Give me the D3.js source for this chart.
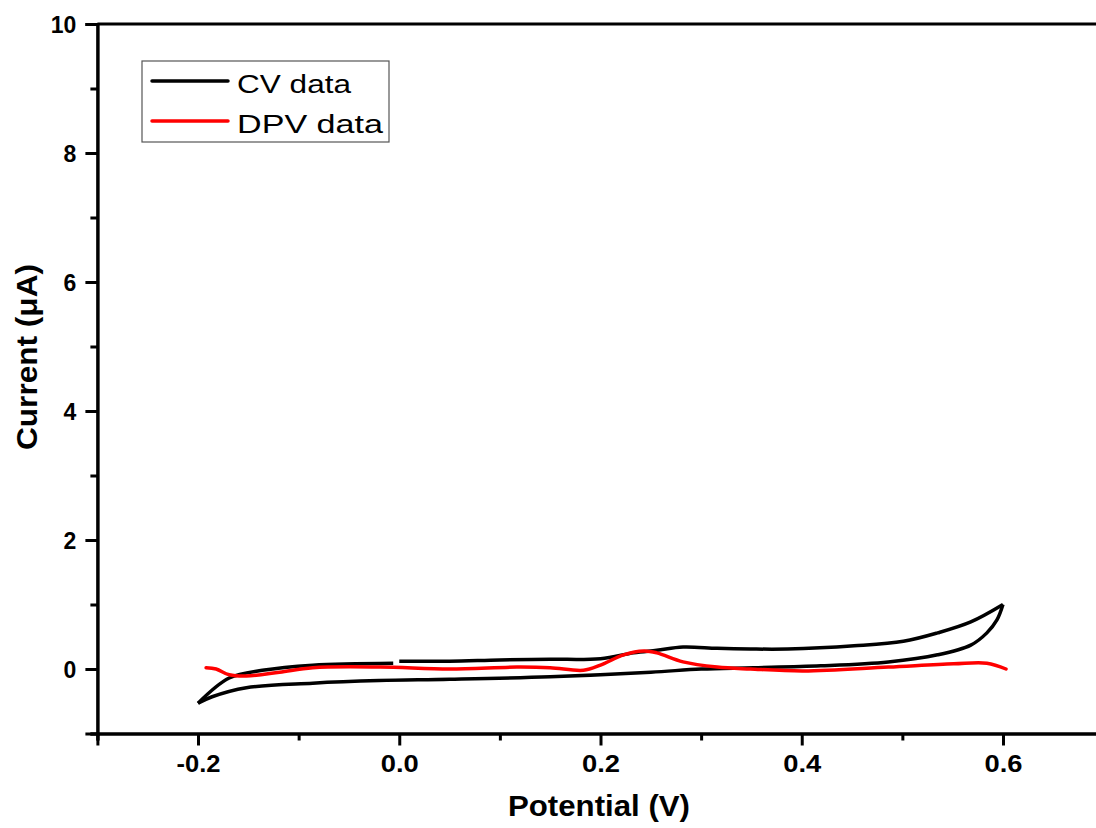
<!DOCTYPE html>
<html>
<head>
<meta charset="utf-8">
<script src="https://cdn.jsdelivr.net/npm/d3@7"></script>
<style>
body{margin:0;background:#fff;}
text{font-family:"Liberation Sans",Arial,sans-serif;}
</style>
</head>
<body>
<script>
// CV forward scan (starts at 0.0 V, goes to 0.6 V)
var cvFwdV = [0.0, 0.05, 0.1, 0.15, 0.2, 0.233, 0.256, 0.282, 0.316, 0.349, 0.386, 0.452, 0.501, 0.535, 0.568, 0.6];
var cvFwdI = [0.12, 0.12, 0.14, 0.15, 0.16, 0.25, 0.29, 0.34, 0.32, 0.31, 0.31, 0.36, 0.43, 0.56, 0.73, 1.0];
// CV reverse scan (0.6 V back to -0.2 V)
var cvRevV = [0.6, 0.594, 0.584, 0.568, 0.535, 0.486, 0.419, 0.352, 0.3, 0.25, 0.15, 0.05, -0.02, -0.086, -0.152, -0.186, -0.2];
var cvRevI = [1.0, 0.76, 0.56, 0.37, 0.22, 0.11, 0.05, 0.02, 0.0, -0.05, -0.12, -0.16, -0.18, -0.22, -0.29, -0.43, -0.53];
// CV second forward part (-0.2 V up to 0.0 V)
var cvEndV = [-0.2, -0.169, -0.136, -0.086, -0.006];
var cvEndI = [-0.53, -0.14, -0.02, 0.06, 0.09];

var dpvV = [-0.192, -0.182, -0.169, -0.152, -0.119, -0.086, -0.019, 0.05, 0.117, 0.15, 0.183, 0.2, 0.223, 0.243, 0.256, 0.282, 0.316, 0.349, 0.402, 0.486, 0.551, 0.584, 0.603];
var dpvI = [0.02, 0.0, -0.09, -0.11, -0.05, 0.02, 0.03, 0.0, 0.03, 0.02, -0.02, 0.06, 0.22, 0.28, 0.25, 0.11, 0.03, 0.0, -0.03, 0.03, 0.08, 0.09, 0.0];

var xMajor = [-0.2, 0.0, 0.2, 0.4, 0.6];
var xMinor = [-0.3, -0.1, 0.1, 0.3, 0.5];
var yMajor = [0, 2, 4, 6, 8, 10];
var yMinor = [-1, 1, 3, 5, 7, 9];

var svg = d3.select("body")
   .append("svg")
   .attr("width", 1096)
   .attr("height", 828);

var x = d3.scaleLinear().domain([-0.3, 0.7]).range([97.4, 1103.6]);
var y = d3.scaleLinear().domain([-1, 10]).range([733.5, 24]);

function zip(vs, is){
  return vs.map(function(v, k){ return [v, is[k]]; });
}

var line = d3.line()
  .x(function(d){ return x(d[0]); })
  .y(function(d){ return y(d[1]); })
  .curve(d3.curveCatmullRom.alpha(0.5));

// curves
[zip(cvFwdV, cvFwdI), zip(cvRevV, cvRevI), zip(cvEndV, cvEndI)].forEach(function(seg){
  svg.append("path")
    .attr("d", line(seg))
    .attr("fill", "none")
    .attr("stroke", "#000")
    .attr("stroke-width", 3.5)
    .attr("stroke-linejoin", "round");
});

svg.append("path")
  .attr("d", line(zip(dpvV, dpvI)))
  .attr("fill", "none")
  .attr("stroke", "#ff0000")
  .attr("stroke-width", 3.5)
  .attr("stroke-linecap", "round");

// axes
var xAxis = svg.append("g").attr("transform", "translate(0," + y(-1) + ")")
  .call(d3.axisBottom(x).tickValues(xMajor).tickSize(12).tickFormat(d3.format(".1f")));
var xMin = svg.append("g").attr("transform", "translate(0," + y(-1) + ")")
  .call(d3.axisBottom(x).tickValues(xMinor).tickSize(7).tickFormat(""));
var yAxis = svg.append("g").attr("transform", "translate(" + x(-0.3) + ",0)")
  .call(d3.axisLeft(y).tickValues(yMajor).tickSize(12));
var yMin = svg.append("g").attr("transform", "translate(" + x(-0.3) + ",0)")
  .call(d3.axisLeft(y).tickValues(yMinor).tickSize(7).tickFormat(""));

[xAxis, xMin, yAxis, yMin].forEach(function(g){
  g.select(".domain").attr("stroke", "#000").attr("stroke-width", 3);
  g.selectAll(".tick line").attr("stroke", "#000").attr("stroke-width", 3);
});
xAxis.selectAll(".tick text")
  .attr("y", 22).attr("dy", "0.71em")
  .style("font-size", "23px").style("font-weight", "bold").attr("fill", "#000")
  .text(function(d){ return d3.format(".1f")(d).replace("−", "-"); })
  .attr("textLength", function(d){ return d < 0 ? 44 : 38; })
  .attr("lengthAdjust", "spacingAndGlyphs");
yAxis.selectAll(".tick text")
  .attr("x", -21).attr("dy", "0.36em")
  .style("font-size", "23px").style("font-weight", "bold").attr("fill", "#000");

// top frame line
svg.append("line")
  .attr("x1", x(-0.3)).attr("x2", 1096)
  .attr("y1", y(10)).attr("y2", y(10))
  .attr("stroke", "#000").attr("stroke-width", 3);

// axis titles
svg.append("text")
  .attr("x", 599).attr("y", 816)
  .attr("text-anchor", "middle")
  .style("font-size", "30px").style("font-weight", "bold")
  .attr("textLength", 182).attr("lengthAdjust", "spacingAndGlyphs")
  .text("Potential (V)");

svg.append("text")
  .attr("transform", "translate(37,357) rotate(-90)")
  .attr("text-anchor", "middle")
  .style("font-size", "30px").style("font-weight", "bold")
  .attr("textLength", 186).attr("lengthAdjust", "spacingAndGlyphs")
  .text("Current (\u03bcA)");

// legend
var legendNames = ["CV data", "DPV data"];
var legendColors = ["#000", "#ff0000"];
var legend = svg.append("g");
legend.append("rect")
  .attr("x", 142).attr("y", 61).attr("width", 247).attr("height", 81)
  .attr("fill", "#fff").attr("stroke", "#555").attr("stroke-width", 1.2);
legendNames.forEach(function(name, k){
  var ly = 81 + k * 40;
  legend.append("line")
    .attr("x1", 152).attr("x2", 228).attr("y1", ly).attr("y2", ly)
    .attr("stroke", legendColors[k]).attr("stroke-width", 3.5)
    .attr("stroke-linecap", "round");
  legend.append("text")
    .attr("x", 237).attr("y", ly + 12)
    .style("font-size", "26px")
    .attr("textLength", k == 0 ? 114 : 146)
    .attr("lengthAdjust", "spacingAndGlyphs")
    .text(name);
});
</script>
</body>
</html>
